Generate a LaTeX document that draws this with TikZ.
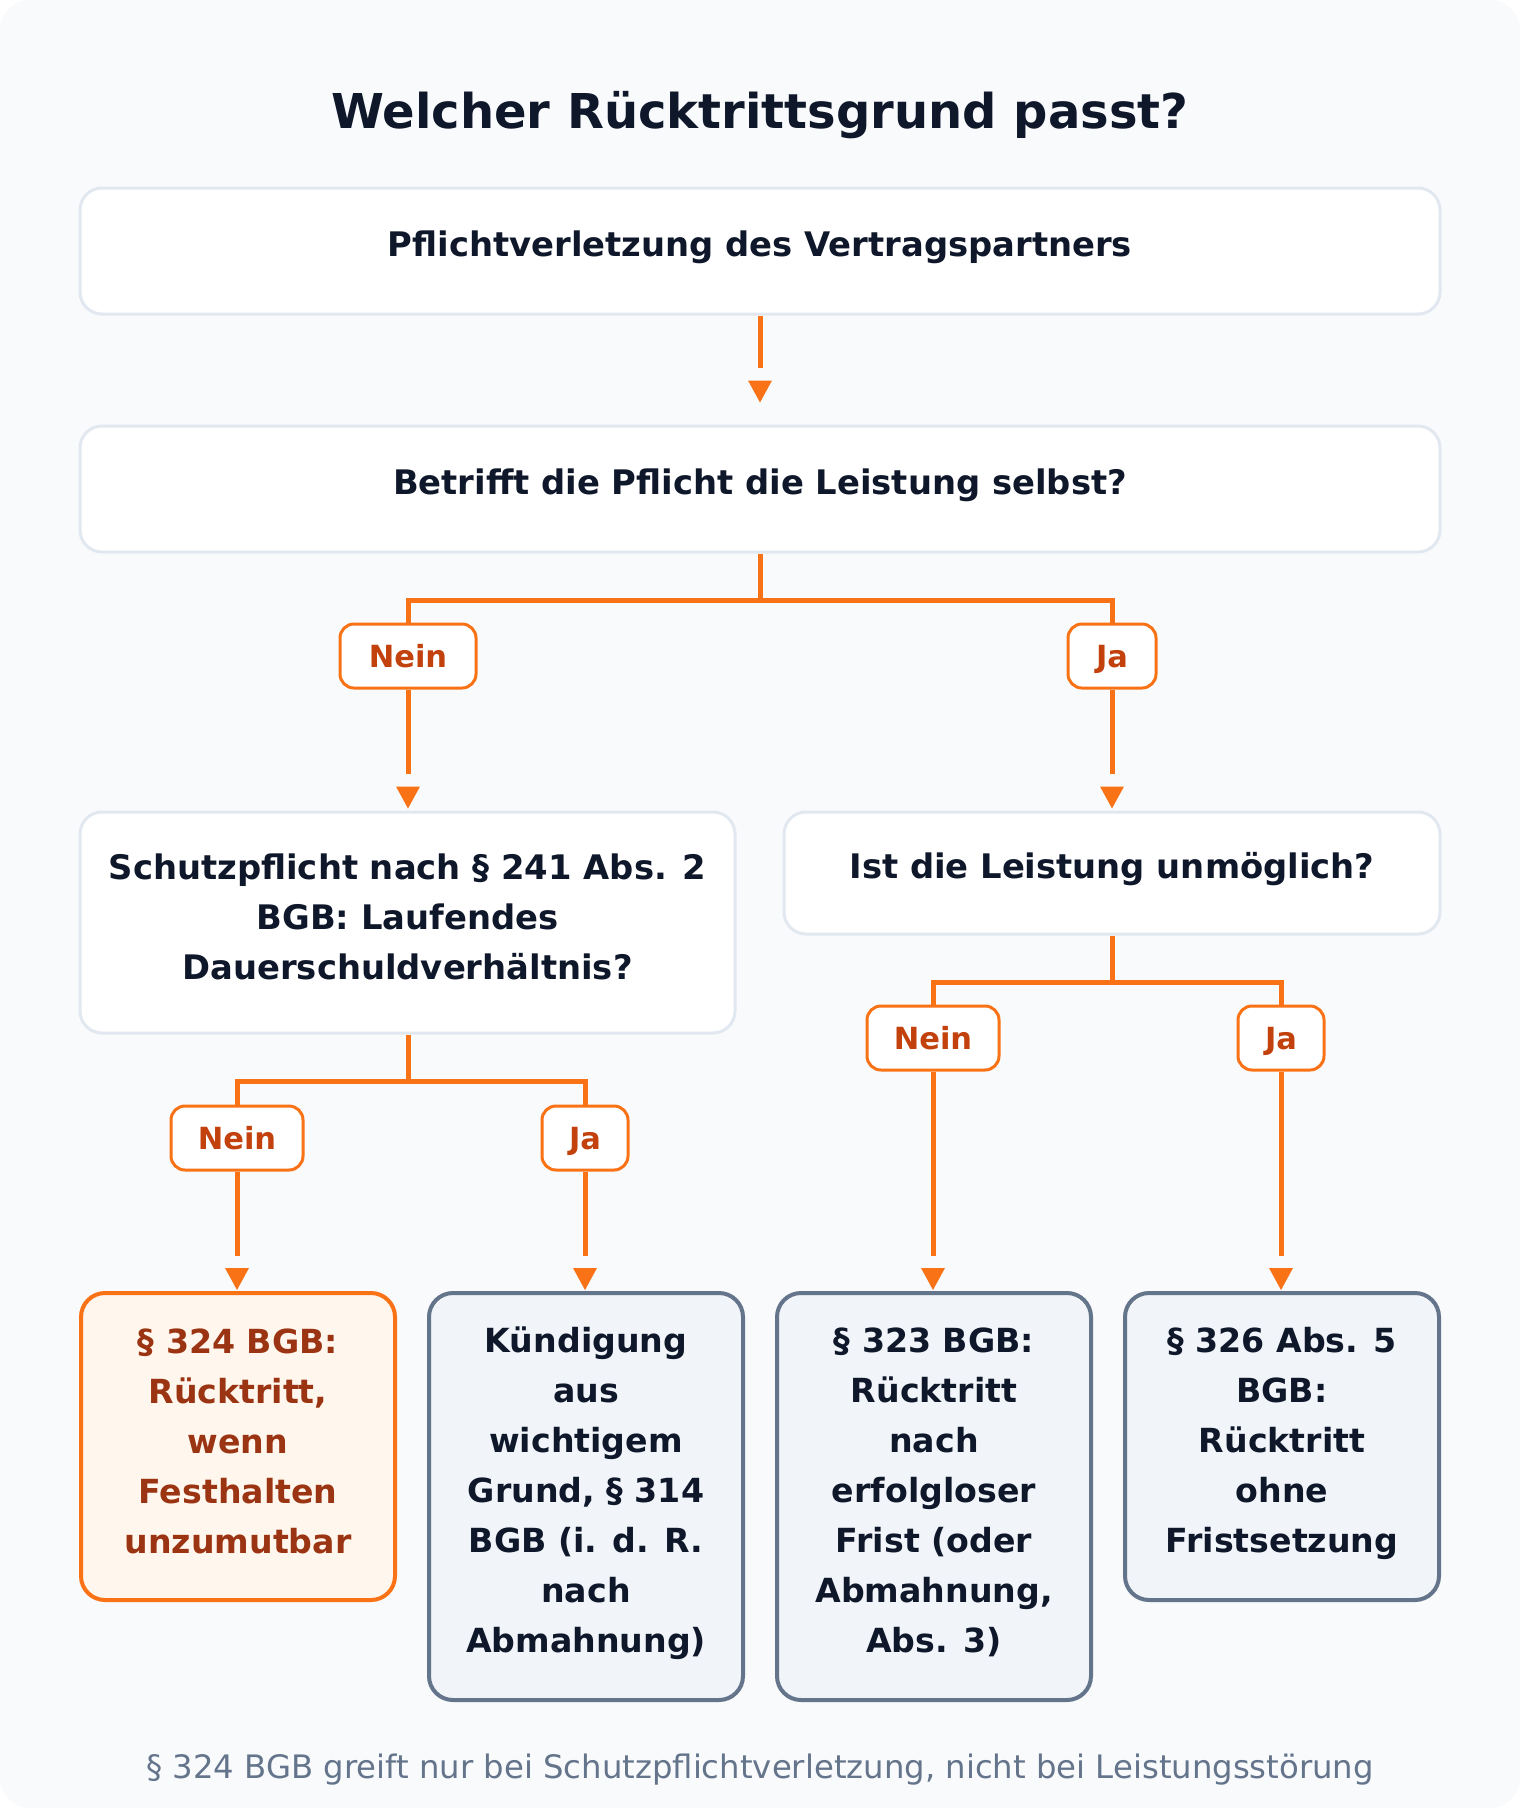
\documentclass[tikz,border=0pt]{standalone}
\usepackage{fontspec}
\setmainfont{DejaVu Sans}
\usetikzlibrary{calc}
\definecolor{bgc}{HTML}{F8FAFC}
\definecolor{qborder}{HTML}{E2E8F0}
\definecolor{accent}{HTML}{F97316}
\definecolor{labtext}{HTML}{C2410C}
\definecolor{darktext}{HTML}{0F172A}
\definecolor{slateb}{HTML}{64748B}
\definecolor{resfill}{HTML}{F1F5F9}
\definecolor{ofill}{HTML}{FFF7ED}
\definecolor{otext}{HTML}{9A3412}
\newcommand\dn[1]{\rule[-#1]{0pt}{#1}}
\newcommand\arrowto[4]{%
  \draw[conn] (#1.south) -- ($(#2.north -| #1.south)+(0,-#3)$);
  \fill[accent] ($(#2.north -| #1.south)+(0,-#4)$) -- ++(-12,-22) -- ++(24,0) -- cycle;}
\begin{document}
\begin{tikzpicture}[x=1pt,y=-1pt,
  qbox/.style={draw=qborder, line width=3pt, fill=white, rounded corners=22pt,
    inner sep=0pt, align=center, text=darktext,
    font=\fontsize{33.8}{50}\selectfont\bfseries},
  lab/.style={draw=accent, line width=3pt, fill=white, rounded corners=14pt,
    inner sep=0pt, text=labtext, font=\fontsize{30.5}{36}\selectfont\bfseries,
    minimum height=64pt, text depth=0pt},
  res/.style={draw=slateb, line width=4pt, fill=resfill, rounded corners=24pt,
    inner sep=0pt, align=center, text=darktext, minimum width=314pt,
    font=\fontsize{33.2}{50}\selectfont\bfseries},
  reso/.style={res, draw=accent, fill=ofill, text=otext},
  conn/.style={draw=accent, line width=5pt}]
\useasboundingbox (0,0) rectangle (1520,1808);
\fill[white] (0,0) rectangle (1520,1808);
\fill[bgc, rounded corners=30pt] (0,0) rectangle (1520,1808);

\node[anchor=base, inner sep=0pt, text=darktext, font=\fontsize{48}{58}\selectfont\bfseries] (title) at (760,128) {Welcher Rücktrittsgrund passt?};

\node[qbox, minimum width=1360pt, minimum height=126pt] (b1) at (760,251) {Pflichtverletzung des Vertragspartners\dn{15pt}};
\node[qbox, minimum width=1360pt, minimum height=126pt] (b2) at (760,489) {Betrifft die Pflicht die Leistung selbst?\dn{15pt}};

\draw[conn] (b1.south) -- ($(b2.north)+(0,-57)$);
\fill[accent] ($(b2.north)+(0,-22)$) -- ++(-12,-22) -- ++(24,0) -- cycle;

\node[lab, minimum width=136pt] (n1) at (408,656) {Nein};
\node[lab, minimum width=88pt] (j1) at (1112,656) {Ja};
\coordinate (k1) at (760,600);
\draw[conn] (b2.south) -- (k1);
\draw[conn] (n1.north) |- (k1) -| (j1.north);

\node[qbox, minimum width=655pt, minimum height=221pt] (b3) at (407.5,922.5) {Schutzpflicht nach § 241 Abs. 2\\BGB: Laufendes\\Dauerschuldverhältnis?\dn{12pt}};
\node[qbox, minimum width=656pt, minimum height=122pt] (b4) at (1112,873) {Ist die Leistung unmöglich?\dn{15pt}};

\arrowto{n1}{b3}{37}{2}
\arrowto{j1}{b4}{37}{2}

\node[lab, minimum width=132pt] (n2) at (237,1138) {Nein};
\node[lab, minimum width=86pt] (j2) at (585,1138) {Ja};
\coordinate (k2) at (408,1081);
\draw[conn] (b3.south -| k2) -- (k2);
\draw[conn] (n2.north) |- (k2) -| (j2.north);

\node[lab, minimum width=132pt] (n3) at (933,1038) {Nein};
\node[lab, minimum width=86pt] (j3) at (1281,1038) {Ja};
\coordinate (k3) at (1112,982);
\draw[conn] (b4.south) -- (k3);
\draw[conn] (n3.north) |- (k3) -| (j3.north);

\node[reso, minimum height=307pt] (r1) at (238,1446.5) {§ 324 BGB:\\Rücktritt,\\wenn\\Festhalten\\unzumutbar\dn{11pt}};
\node[res, minimum height=407pt] (r2) at (586,1496.5) {Kündigung\\aus\\wichtigem\\Grund, § 314\\BGB (i. d. R.\\nach\\Abmahnung)\dn{13pt}};
\node[res, minimum height=407pt] (r3) at (934,1496.5) {§ 323 BGB:\\Rücktritt\\nach\\erfolgloser\\Frist (oder\\Abmahnung,\\Abs. 3)\dn{13pt}};
\node[res, minimum height=307pt] (r4) at (1282,1446.5) {§ 326 Abs. 5\\BGB:\\Rücktritt\\ohne\\Fristsetzung\dn{13pt}};

\arrowto{n2}{r1}{35}{1}
\arrowto{j2}{r2}{35}{1}
\arrowto{n3}{r3}{35}{1}
\arrowto{j3}{r4}{35}{1}

\node[anchor=base, inner sep=0pt, text=slateb, font=\fontsize{32.3}{38}\selectfont] (foot) at (760,1778) {§ 324 BGB greift nur bei Schutzpflichtverletzung, nicht bei Leistungsstörung};
\end{tikzpicture}
\end{document}
